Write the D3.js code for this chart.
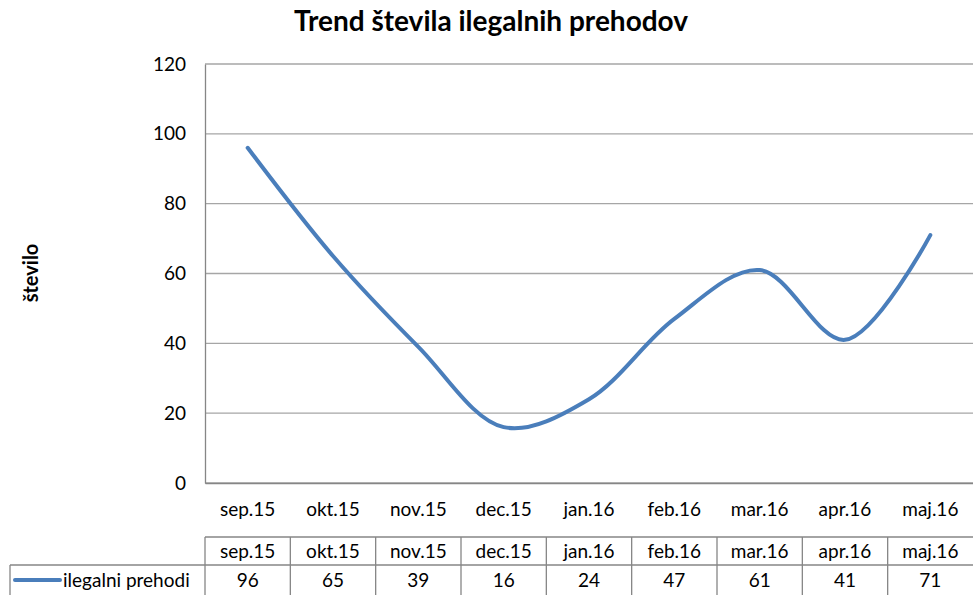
<!DOCTYPE html>
<html>
<head>
<meta charset="utf-8">
<script src="https://cdn.jsdelivr.net/npm/d3@7"></script>
<style>
  body { margin: 0; background: #fff; }
  text { font-family: Lato, "Open Sans", sans-serif; fill: #000; }
</style>
</head>
<body>
<div id="chart"></div>
<script>
// data
var months = ["sep.15", "okt.15", "nov.15", "dec.15", "jan.16", "feb.16", "mar.16", "apr.16", "maj.16"];
var prehodi = [96, 65, 39, 16, 24, 47, 61, 41, 71];
var yTicks = [0, 20, 40, 60, 80, 100, 120];
var seriesName = "ilegalni prehodi";

var W = 973, H = 595;
var plot = { left: 205, right: 973, top: 64, bottom: 483 };

var svg = d3.select("#chart").append("svg")
    .attr("width", W)
    .attr("height", H);

var x = d3.scaleBand().domain(months).range([plot.left, plot.right]);
var y = d3.scaleLinear().domain([0, 120]).range([plot.bottom, plot.top]);

// gridlines
svg.selectAll(".grid").data(yTicks).enter().append("line")
    .attr("x1", plot.left).attr("x2", plot.right)
    .attr("y1", function(d) { return y(d); })
    .attr("y2", function(d) { return y(d); })
    .style("stroke", "#a6a6a6")
    .style("stroke-width", 1.3);

// y axis
var yAxis = svg.append("g")
    .attr("transform", "translate(" + plot.left + ",0)")
    .call(d3.axisLeft(y).tickValues(yTicks).tickSize(0).tickPadding(19));
yAxis.select(".domain").style("stroke", "#868686").style("stroke-width", 1.3);
yAxis.selectAll("text").style("font-size", "19px");

// x axis
var xAxis = svg.append("g")
    .attr("transform", "translate(0," + plot.bottom + ")")
    .call(d3.axisBottom(x).tickSize(0).tickPadding(20));
xAxis.select(".domain").style("stroke", "#868686").style("stroke-width", 1.3);
xAxis.selectAll("text").style("font-size", "19px");

// line
var line = d3.line()
    .x(function(d, i) { return x(months[i]) + x.bandwidth() / 2; })
    .y(function(d) { return y(d); })
    .curve(d3.curveCatmullRom.alpha(0.5));

svg.append("path")
    .datum(prehodi)
    .attr("d", line)
    .style("fill", "none")
    .style("stroke", "#4a7ebb")
    .style("stroke-width", 4)
    .style("stroke-linecap", "round");

// title
svg.append("text")
    .attr("x", 491).attr("y", 31)
    .attr("text-anchor", "middle")
    .style("font-size", "28px")
    .style("font-weight", "bold")
    .text("Trend števila ilegalnih prehodov");

// y label
svg.append("text")
    .attr("transform", "translate(38,273) rotate(-90)")
    .attr("text-anchor", "middle")
    .style("font-size", "20px")
    .style("font-weight", "bold")
    .text("število");

// data table
var rowTop = 537, rowMid = 565, rowBot = 600, tableLeft = 10;
var border = "#868686";
var tbl = svg.append("g");

tbl.append("line").attr("x1", plot.left).attr("x2", plot.right).attr("y1", rowTop).attr("y2", rowTop)
    .style("stroke", border).style("stroke-width", 1.3);
tbl.append("line").attr("x1", tableLeft).attr("x2", plot.right).attr("y1", rowMid).attr("y2", rowMid)
    .style("stroke", border).style("stroke-width", 1.3);
tbl.append("line").attr("x1", tableLeft).attr("x2", tableLeft).attr("y1", rowMid).attr("y2", rowBot)
    .style("stroke", border).style("stroke-width", 1.3);

tbl.selectAll(".vline").data(months).enter().append("line")
    .attr("x1", function(d) { return x(d); })
    .attr("x2", function(d) { return x(d); })
    .attr("y1", rowTop).attr("y2", rowBot)
    .style("stroke", border).style("stroke-width", 1.3);

tbl.selectAll(".hd").data(months).enter().append("text")
    .attr("x", function(d) { return x(d) + x.bandwidth() / 2; })
    .attr("y", 558)
    .attr("text-anchor", "middle")
    .style("font-size", "19px")
    .text(function(d) { return d; });

tbl.selectAll(".val").data(prehodi).enter().append("text")
    .attr("x", function(d, i) { return x(months[i]) + x.bandwidth() / 2; })
    .attr("y", 587)
    .attr("text-anchor", "middle")
    .style("font-size", "19px")
    .text(function(d) { return d; });

tbl.append("line").attr("x1", 15).attr("x2", 60).attr("y1", 580).attr("y2", 580)
    .style("stroke", "#4a7ebb").style("stroke-width", 4).style("stroke-linecap", "round");
tbl.append("text").attr("x", 63).attr("y", 587)
    .style("font-size", "19px")
    .text(seriesName);
</script>
</body>
</html>
